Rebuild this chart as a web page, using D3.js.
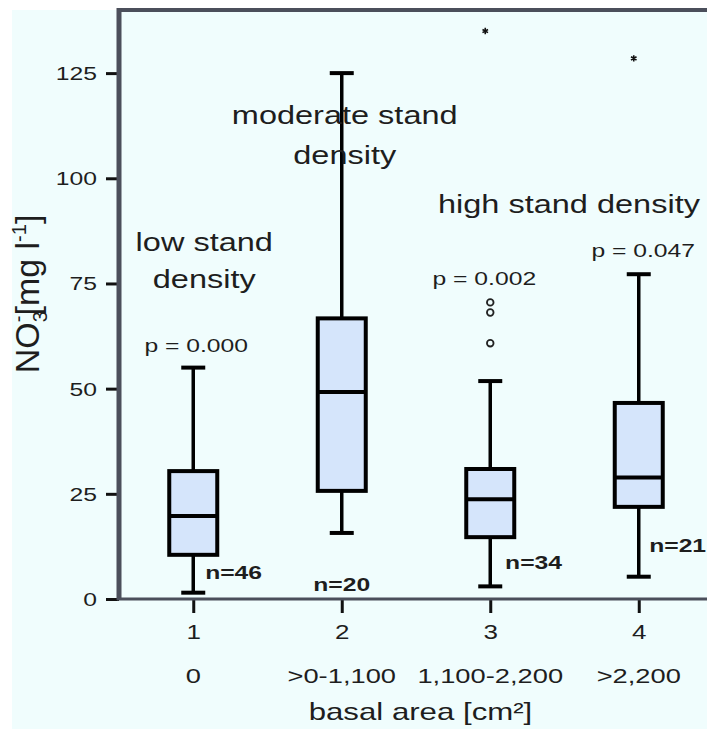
<!DOCTYPE html>
<html lang="en">
<head>
    <meta charset="UTF-8">
    <title>NO3 box plot</title>
    <script src="https://d3js.org/d3.v7.min.js"></script>
    <style>
        body { margin: 0; background: #fff; }
        text { font-family: "Liberation Sans", Arial, sans-serif; fill: #1e1e1e; }
    </style>
</head>
<body>
    <svg width="707" height="729"></svg>
    <script>
        // categories and box statistics
        const categories = ['1', '2', '3', '4'];
        const categoryLabels = ['0', '>0-1,100', '1,100-2,200', '>2,200'];
        const whiskerLow = [1.5, 15.7, 3, 5.3];
        const q1 = [10.5, 25.7, 14.7, 21.9];
        const median = [19.7, 49.2, 23.7, 28.9];
        const q3 = [30.4, 66.7, 30.9, 46.6];
        const whiskerHigh = [55, 125, 51.8, 77.2];
        const outliers = [[3, 70.5], [3, 68.1], [3, 60.8]];   // circles
        const extremes = [[3, 135], [4, 128.5]];              // stars
        const nLabels = ['n=46', 'n=20', 'n=34', 'n=21'];
        const pLabels = ['p = 0.000', '', 'p = 0.002', 'p = 0.047'];
        const yTicks = [0, 25, 50, 75, 100, 125];

        const svg = d3.select('svg');
        const sx = 1.3; // the original lettering is wide
        const wide = (x, y) => 'translate(' + [x, y] + ') scale(' + sx + ',1)';

        const x = d3.scaleLinear().domain([0.5, 4.5]).range([119, 713]);
        const y = d3.scaleLinear().domain([0, 140]).range([599, 10]);

        svg.append('rect')
            .attr('x', 12).attr('y', 10)
            .attr('width', 707).attr('height', 729)
            .attr('fill', '#f0fdfd');

        // axes
        const yAxis = d3.axisLeft(y).tickValues(yTicks).tickSize(13);
        const gy = svg.append('g').attr('transform', 'translate(119,0)').call(yAxis);
        gy.select('.domain').remove();
        gy.selectAll('line').attr('stroke', '#111').attr('stroke-width', 3);
        gy.selectAll('text')
            .attr('x', null).attr('dy', null)
            .attr('transform', wide(-22, 0))
            .attr('dominant-baseline', 'central')
            .attr('font-size', 19).attr('font-family', null);

        const xAxis = d3.axisBottom(x).tickValues([1, 2, 3, 4])
            .tickSize(14).tickFormat((d, i) => categories[i]);
        const gx = svg.append('g').attr('transform', 'translate(0,599)').call(xAxis);
        gx.select('.domain').remove();
        gx.selectAll('line').attr('stroke', '#111').attr('stroke-width', 3);
        gx.selectAll('text')
            .attr('y', null).attr('dy', null)
            .attr('transform', wide(0, 33))
            .attr('dominant-baseline', 'central')
            .attr('font-size', 20).attr('font-family', null);

        svg.selectAll('.cat').data(categoryLabels).enter().append('text')
            .attr('class', 'cat')
            .attr('transform', (d, i) => wide(x(i + 1), 676))
            .attr('text-anchor', 'middle').attr('dominant-baseline', 'central')
            .attr('font-size', 21)
            .text(d => d);

        svg.append('text')
            .attr('transform', wide(x(2.53), 712))
            .attr('text-anchor', 'middle').attr('dominant-baseline', 'central')
            .attr('font-size', 24)
            .text('basal area [cm²]');

        // frame
        const frame = '#4b4f5b';
        svg.append('line').attr('x1', 117).attr('x2', 707).attr('y1', 10).attr('y2', 10)
            .attr('stroke', frame).attr('stroke-width', 4);
        svg.append('line').attr('x1', 119).attr('x2', 119).attr('y1', 8).attr('y2', 600)
            .attr('stroke', frame).attr('stroke-width', 5);
        svg.append('line').attr('x1', 117).attr('x2', 707).attr('y1', 599).attr('y2', 599)
            .attr('stroke', frame).attr('stroke-width', 3);

        // y title
        const yt = svg.append('text')
            .attr('transform', 'translate(39,294) rotate(-90)')
            .attr('text-anchor', 'middle')
            .attr('font-size', 34);
        yt.append('tspan').text('NO');
        yt.append('tspan').attr('font-size', 20).attr('dy', 8).text('3');
        yt.append('tspan').attr('font-size', 20).attr('dx', -11).attr('dy', -22).text('-');
        yt.append('tspan').attr('dy', 14).text('[mg l');
        yt.append('tspan').attr('font-size', 20).attr('dy', -13).text('-1');
        yt.append('tspan').attr('dy', 13).text(']');

        // boxes
        const idx = d3.range(categories.length);
        const boxes = svg.selectAll('.box').data(idx).enter().append('g').attr('class', 'box');
        boxes.append('line')
            .attr('x1', i => x(i + 1)).attr('x2', i => x(i + 1))
            .attr('y1', i => y(whiskerHigh[i])).attr('y2', i => y(q3[i]))
            .attr('stroke', '#000').attr('stroke-width', 3.5);
        boxes.append('line')
            .attr('x1', i => x(i + 1)).attr('x2', i => x(i + 1))
            .attr('y1', i => y(q1[i])).attr('y2', i => y(whiskerLow[i]))
            .attr('stroke', '#000').attr('stroke-width', 3.5);
        [whiskerHigh, whiskerLow].forEach(arr => {
            boxes.append('line')
                .attr('x1', i => x(i + 1) - 12).attr('x2', i => x(i + 1) + 12)
                .attr('y1', i => y(arr[i])).attr('y2', i => y(arr[i]))
                .attr('stroke', '#000').attr('stroke-width', 4);
        });
        boxes.append('rect')
            .attr('x', i => x(i + 1) - 24).attr('width', 48)
            .attr('y', i => y(q3[i])).attr('height', i => y(q1[i]) - y(q3[i]))
            .attr('fill', '#d5e5fb').attr('stroke', '#000').attr('stroke-width', 4);
        boxes.append('line')
            .attr('x1', i => x(i + 1) - 24).attr('x2', i => x(i + 1) + 24)
            .attr('y1', i => y(median[i])).attr('y2', i => y(median[i]))
            .attr('stroke', '#000').attr('stroke-width', 4);

        svg.selectAll('.out').data(outliers).enter().append('circle')
            .attr('cx', d => x(d[0])).attr('cy', d => y(d[1])).attr('r', 3.3)
            .attr('fill', 'none').attr('stroke', '#222').attr('stroke-width', 1.8);

        svg.selectAll('.ext').data(extremes).enter().append('path')
            .attr('d', d3.symbol(d3.symbolAsterisk, 28))
            .attr('transform', d => 'translate(' + [x(d[0]) - 5, y(d[1])] + ')')
            .attr('fill', 'none').attr('stroke', '#111').attr('stroke-width', 1.6);

        // n and p labels
        const nPos = [[1.08, 6.4], [2.0, 3.4], [3.1, 8.6], [4.07, 12.8]];
        svg.selectAll('.n').data(nLabels).enter().append('text')
            .attr('transform', (d, i) => wide(x(nPos[i][0]), y(nPos[i][1])))
            .attr('dominant-baseline', 'central')
            .attr('font-size', 19).attr('font-weight', 'bold')
            .attr('text-anchor', (d, i) => i === 1 ? 'middle' : 'start')
            .text(d => d);

        const pPos = [[1.02, 60.3], [2, 0], [2.96, 76.2], [4.03, 82.9]];
        svg.selectAll('.p').data(pLabels).enter().append('text')
            .attr('transform', (d, i) => wide(x(pPos[i][0]), y(pPos[i][1])))
            .attr('text-anchor', 'middle').attr('dominant-baseline', 'central')
            .attr('font-size', 19)
            .text(d => d);

        // group annotations
        const notes = [
            ['low stand', 1.074, 84.8], ['density', 1.074, 76],
            ['moderate stand', 2.02, 115], ['density', 2.02, 105.5],
            ['high stand density', 3.53, 93.8]
        ];
        svg.selectAll('.note').data(notes).enter().append('text')
            .attr('transform', d => wide(x(d[1]), y(d[2])))
            .attr('text-anchor', 'middle').attr('dominant-baseline', 'central')
            .attr('font-size', 25)
            .text(d => d[0]);
    </script>
</body>
</html>
